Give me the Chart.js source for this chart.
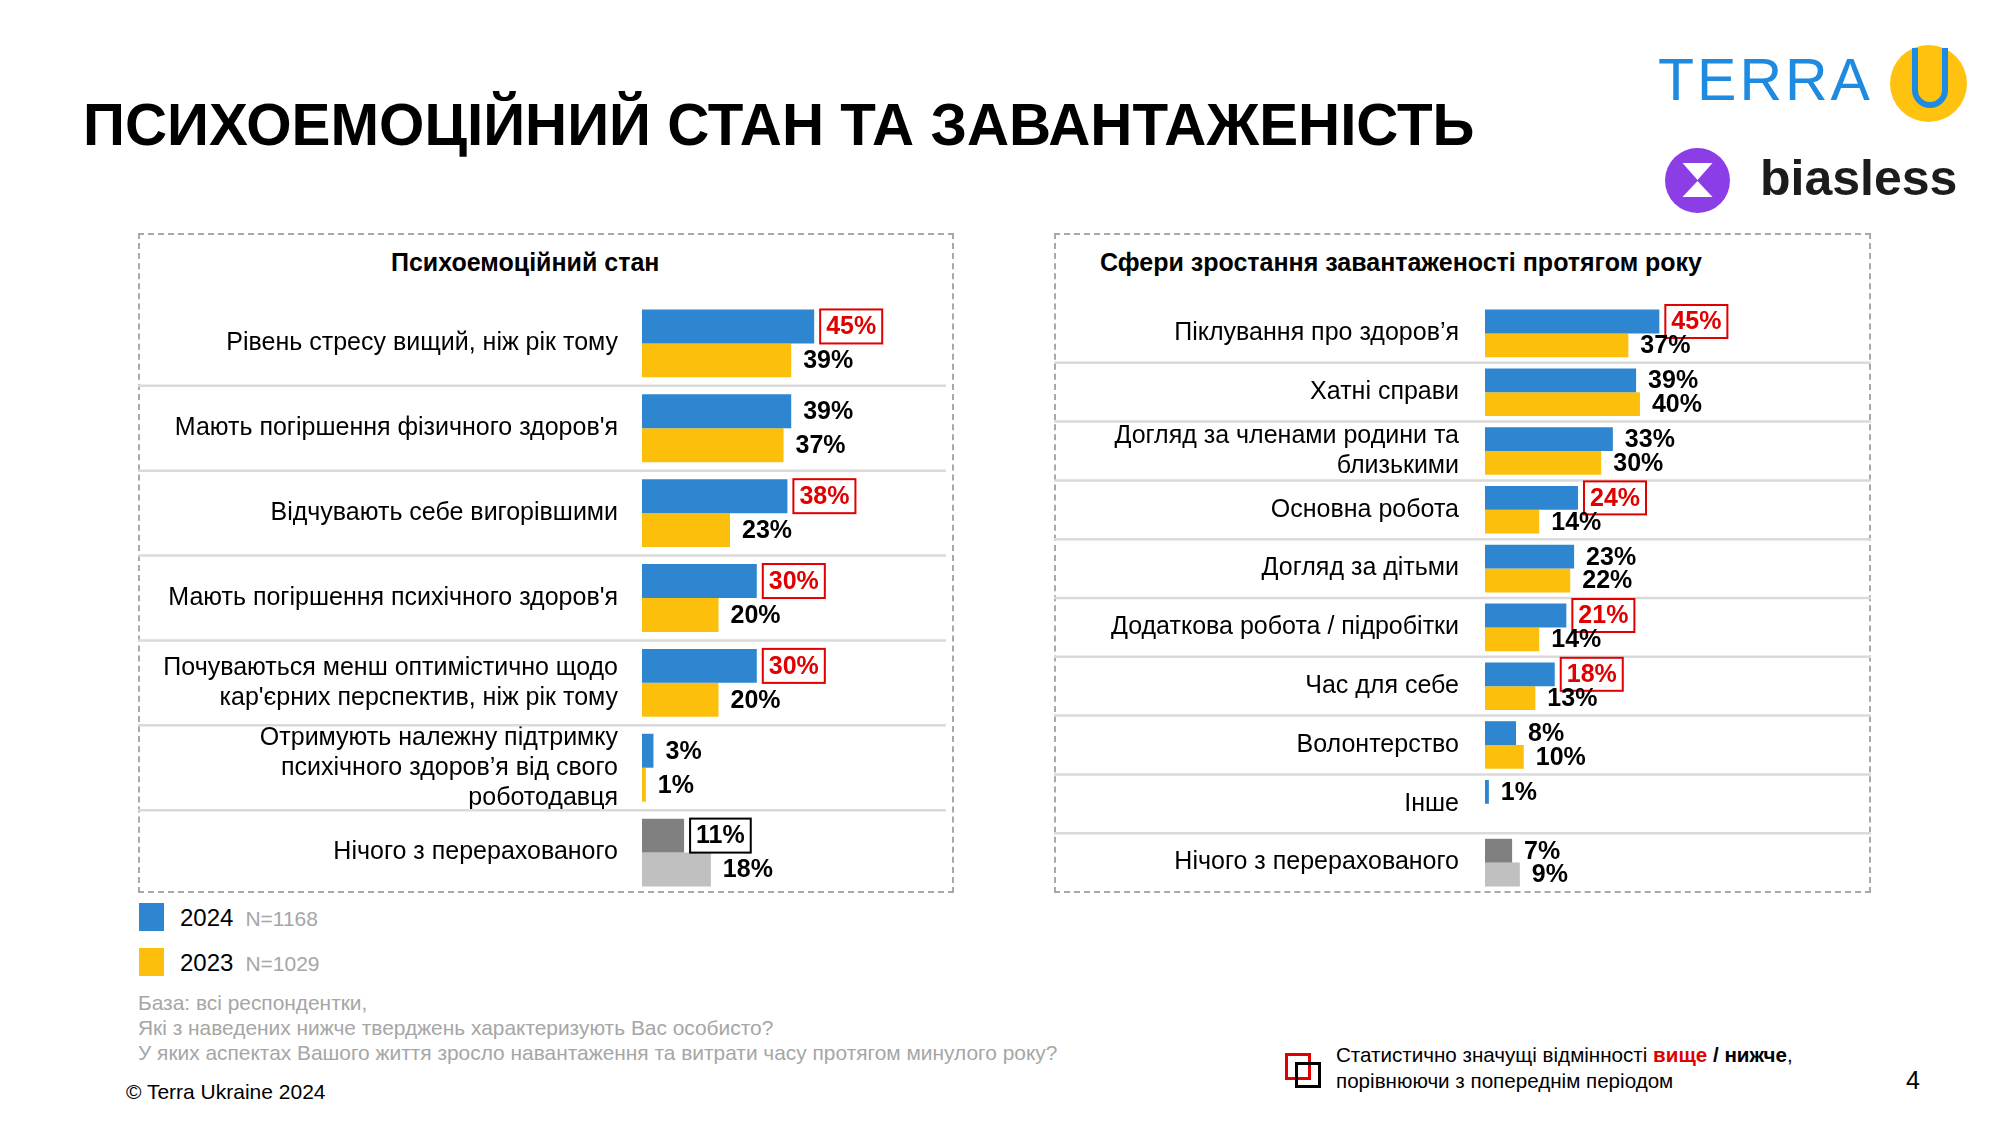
<!DOCTYPE html>
<html lang="uk">
<head>
<meta charset="utf-8">
<title>Психоемоційний стан та завантаженість</title>
<script src="https://cdn.jsdelivr.net/npm/chart.js@4.4.1/dist/chart.umd.min.js"></script>
<style>
  body { margin: 0; width: 2000px; height: 1125px; background: #fff; position: relative; overflow: hidden;
         font-family: "Liberation Sans", Arial, Helvetica, sans-serif; color: #000; }
  .abs { position: absolute; white-space: nowrap; }
  .title { left: 83px; top: 91px; font-size: 58.3px; font-weight: bold; }
  .panel { position: absolute; border: 2px dashed #a9a9a9; box-sizing: border-box; }
  .panel-title { font-size: 25px; font-weight: bold; }
  .legend-box { position: absolute; width: 25px; height: 28px; }
  .legend-year { font-size: 24px; }
  .legend-n { font-size: 21px; color: #a6a6a6; margin-left: 12px; }
  .note { font-size: 20.9px; color: #a6a6a6; }
  canvas { position: absolute; }
</style>
</head>
<body>

<div class="abs title">ПСИХОЕМОЦІЙНИЙ СТАН ТА ЗАВАНТАЖЕНІСТЬ</div>

<!-- logos -->
<div class="abs" style="left:1658px; top:46px; font-size:59px; color:#1e8ae0; letter-spacing:3px;">TERRA</div>
<svg class="abs" style="left:1890px; top:45px;" width="77" height="77" viewBox="0 0 77 77">
  <circle cx="38.5" cy="38.5" r="38.5" fill="#ffc20e"/>
  <path d="M25 3 V45 A15 15 0 0 0 55 45 V3" fill="none" stroke="#1e8ae0" stroke-width="6"/>
</svg>
<svg class="abs" style="left:1665px; top:148px;" width="65" height="65" viewBox="0 0 65 65">
  <circle cx="32.5" cy="32.5" r="32.5" fill="#8b3ee6"/>
  <path d="M17.5 15 H47.5 L32.5 32 Z M17.5 49 H47.5 L32.5 33 Z" fill="#fff"/>
</svg>
<div class="abs" style="left:1760px; top:149px; font-size:50px; font-weight:bold; color:#1c1c1c;">biasless</div>

<!-- panels -->
<div class="panel" style="left:138px; top:233px; width:816px; height:660px;"></div>
<div class="panel" style="left:1054px; top:233px; width:817px; height:660px;"></div>
<div class="abs panel-title" style="left:391px; top:248px;">Психоемоційний стан</div>
<div class="abs panel-title" style="left:1100px; top:248px;">Сфери зростання завантаженості протягом року</div>

<canvas id="psychChart" width="816" height="594" style="left:138px; top:301px;"></canvas>
<canvas id="loadChart" width="817" height="588" style="left:1054px; top:304px;"></canvas>

<!-- legend -->
<div class="legend-box" style="left:139px; top:903px; background:#2e86d1;"></div>
<div class="abs" style="left:180px; top:904px;"><span class="legend-year">2024</span><span class="legend-n">N=1168</span></div>
<div class="legend-box" style="left:139px; top:948px; background:#fcc00c;"></div>
<div class="abs" style="left:180px; top:949px;"><span class="legend-year">2023</span><span class="legend-n">N=1029</span></div>

<div class="abs note" style="left:138px; top:991px;">База: всі респондентки,</div>
<div class="abs note" style="left:138px; top:1016px;">Які з наведених нижче тверджень характеризують Вас особисто?</div>
<div class="abs note" style="left:138px; top:1041px;">У яких аспектах Вашого життя зросло навантаження та витрати часу протягом минулого року?</div>
<div class="abs" style="left:126px; top:1080px; font-size:21px;">© Terra Ukraine 2024</div>

<!-- significance legend -->
<div class="abs" style="left:1285px; top:1053px; width:20px; height:21px; border:3px solid #e00000;"></div>
<div class="abs" style="left:1295px; top:1062px; width:20px; height:20px; border:3px solid #000;"></div>
<div class="abs" style="left:1336px; top:1042px; font-size:20.6px; line-height:26px;">
  Статистично значущі відмінності <b style="color:#e00000">вище</b> <b>/ нижче</b>,<br>порівнюючи з попереднім періодом
</div>
<div class="abs" style="left:1906px; top:1066px; font-size:25px;">4</div>

<script>
// Left panel: psycho-emotional state
const psychLabels = [
  'Рівень стресу вищий, ніж рік тому',
  "Мають погіршення фізичного здоров'я",
  'Відчувають себе вигорівшими',
  "Мають погіршення психічного здоров'я",
  ['Почуваються менш оптимістично щодо', "кар'єрних перспектив, ніж рік тому"],
  ['Отримують належну підтримку', 'психічного здоров’я від свого', 'роботодавця'],
  'Нічого з перерахованого'
];
const psych2024 = [45, 39, 38, 30, 30, 3, 11];
const psych2023 = [39, 37, 23, 20, 20, 1, 18];
const psychSig2024 = ['up', null, 'up', 'up', 'up', null, 'down'];

// Right panel: areas of increased workload
const loadLabels = [
  'Піклування про здоров’я',
  'Хатні справи',
  ['Догляд за членами родини та', 'близькими'],
  'Основна робота',
  'Догляд за дітьми',
  'Додаткова робота / підробітки',
  'Час для себе',
  'Волонтерство',
  'Інше',
  'Нічого з перерахованого'
];
const load2024 = [45, 39, 33, 24, 23, 21, 18, 8, 1, 7];
const load2023 = [37, 40, 30, 14, 22, 14, 13, 10, null, 9];
const loadSig2024 = ['up', null, null, 'up', null, 'up', 'up', null, null, null];

const BLUE = '#2e86d1';
const YELLOW = '#fcc00c';
const GRAY_DARK = '#808080';
const GRAY_LIGHT = '#c0c0c0';
const RED = '#e00000';
const FONT = '"Liberation Sans", Arial, Helvetica, sans-serif';

// colours: last row ("nothing") is grey
function barColors(labels, main, other) {
  return labels.map((_, i) => i === labels.length - 1 ? other : main);
}

// light separators between the rows
const rowLines = {
  id: 'rowLines',
  beforeDatasetsDraw(chart, args, opts) {
    const ctx = chart.ctx;
    const y = chart.scales.y;
    ctx.save();
    ctx.strokeStyle = '#dadada';
    ctx.lineWidth = 2.5;
    for (let i = 0; i < chart.data.labels.length - 1; i++) {
      const py = (y.getPixelForValue(i) + y.getPixelForValue(i + 1)) / 2;
      ctx.beginPath();
      ctx.moveTo(0, py);
      ctx.lineTo(opts.lineEnd, py);
      ctx.stroke();
    }
    ctx.restore();
  }
};

// percentage labels, with a box for significant differences
const valueLabels = {
  id: 'valueLabels',
  afterDatasetsDraw(chart, args, opts) {
    const ctx = chart.ctx;
    ctx.save();
    ctx.font = 'bold 25px ' + FONT;
    ctx.textBaseline = 'middle';
    ctx.textAlign = 'left';
    chart.data.datasets.forEach((ds, di) => {
      chart.getDatasetMeta(di).data.forEach((bar, i) => {
        const v = ds.data[i];
        if (v == null) return;
        const text = v + '%';
        const x = bar.x + opts.gap;
        const y = bar.y + 1;
        const sig = ds.sig ? ds.sig[i] : null;
        ctx.fillStyle = '#000';
        if (sig) {
          const w = ctx.measureText(text).width;
          const col = sig === 'up' ? RED : '#000';
          ctx.strokeStyle = col;
          ctx.lineWidth = 2;
          ctx.strokeRect(x - 6, bar.y - opts.boxH / 2, w + 12, opts.boxH);
          ctx.fillStyle = col;
        }
        ctx.fillText(text, x, y);
      });
    });
    ctx.restore();
  }
};

function makeChart(id, labels, d2024, d2023, sig, yWidth, tickPad, padRight, xMax, catPct, lineEnd, boxH) {
  const ctx = document.getElementById(id).getContext('2d');
  return new Chart(ctx, {
    type: 'bar',
    data: {
      labels: labels,
      datasets: [
        {
          label: '2024',
          data: d2024,
          sig: sig,
          backgroundColor: barColors(labels, BLUE, GRAY_DARK),
          borderWidth: 0
        },
        {
          label: '2023',
          data: d2023,
          backgroundColor: barColors(labels, YELLOW, GRAY_LIGHT),
          borderWidth: 0
        }
      ]
    },
    options: {
      indexAxis: 'y',
      responsive: false,
      animation: false,
      devicePixelRatio: 1,
      categoryPercentage: catPct,
      barPercentage: 1,
      layout: { padding: { left: 0, right: padRight, top: 0, bottom: 0 } },
      plugins: {
        legend: { display: false },
        tooltip: { enabled: false },
        rowLines: { lineEnd: lineEnd },
        valueLabels: { gap: 12, boxH: boxH }
      },
      scales: {
        x: {
          display: false,
          min: 0,
          max: xMax
        },
        y: {
          afterFit: function(scale) {
            // fixed label column, no extra padding above/below the rows
            scale.width = yWidth;
            scale.paddingTop = 0;
            scale.paddingBottom = 0;
          },
          grid: { display: false, drawTicks: false },
          border: { display: false },
          ticks: {
            autoSkip: false,
            padding: tickPad,
            color: '#000',
            font: { size: 25, family: FONT, lineHeight: 1.2 }
          }
        }
      }
    },
    plugins: [rowLines, valueLabels]
  });
}

makeChart('psychChart', psychLabels, psych2024, psych2023, psychSig2024, 504, 24, 4, 80.5, 0.8, 808, 34);
makeChart('loadChart', loadLabels, load2024, load2023, loadSig2024, 431, 26, 78, 79.5, 0.81, 817, 33);
</script>
</body>
</html>
